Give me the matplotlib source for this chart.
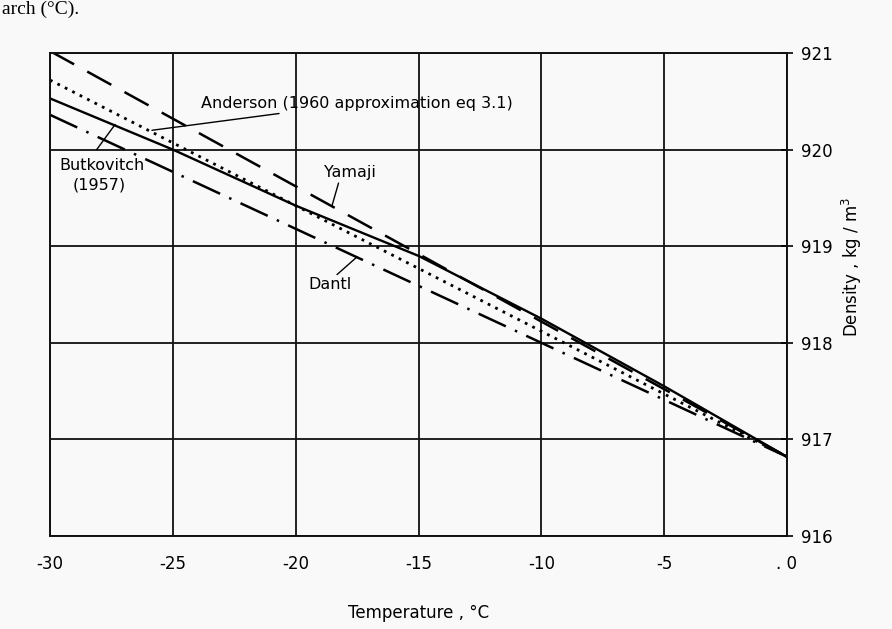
import matplotlib
matplotlib.use("Agg")
import matplotlib.pyplot as plt

# values
temperature = [-30, -25, -20, -15, -10, -5, 0]
yamaji = [921.02, 920.32, 919.62, 918.92, 918.22, 917.52, 916.82]
anderson = [920.72, 920.07, 919.42, 918.77, 918.12, 917.47, 916.82]
butkovitch = [920.53, 920.0, 919.42, 918.9, 918.25, 917.55, 916.82]
dantl = [920.36, 919.77, 919.18, 918.59, 918.0, 917.41, 916.82]

xticks = [-30, -25, -20, -15, -10, -5, 0]
xtick_labels = ["-30", "-25", "-20", "-15", "-10", "-5", ". 0"]
yticks = [916, 917, 918, 919, 920, 921]

plt.rcParams["font.family"] = ["DejaVu Sans"]

fig = plt.figure(figsize=(8.92, 6.29), dpi=100, facecolor="#f9f9f9")
ax = fig.add_axes([50 / 892, 1 - 536 / 629, 737 / 892, 483 / 629])
ax.set_facecolor("#f9f9f9")

ax.plot(temperature, yamaji, color="black", lw=1.8, ls=(0, (11, 6)))
ax.plot(temperature, anderson, color="black", lw=2.0, ls=(0, (1, 2)))
ax.plot(temperature, butkovitch, color="black", lw=1.7, ls="-")
ax.plot(temperature, dantl, color="black", lw=1.8, ls=(0, (12, 4, 1, 4)))

ax.set_xlim(-30, 0)
ax.set_ylim(916, 921)
ax.set_xticks(xticks)
ax.set_xticklabels(xtick_labels)
ax.set_yticks(yticks)
ax.yaxis.tick_right()
ax.tick_params(axis="x", length=0, pad=14, labelsize=12)
ax.tick_params(axis="y", direction="inout", length=8, width=1.2, pad=6, labelsize=12)
ax.grid(True, color="#111111", lw=1.3)
for s in ax.spines.values():
    s.set_linewidth(1.4)
    s.set_color("#111111")

ax.set_xlabel("Temperature , °C", fontsize=12, labelpad=22)
fig.text(852 / 892, 1 - 267 / 629, "Density , kg / m$^3$", rotation=90,
         ha="center", va="center", fontsize=12)

arrow = dict(arrowstyle="-", color="black", lw=1.0, shrinkA=0, shrinkB=0)
ax.annotate("Anderson (1960 approximation eq 3.1)", xy=(-25.85, 920.2),
            xytext=(-23.85, 920.48), ha="left", va="center", fontsize=11.5,
            arrowprops=arrow)
ax.annotate("", xy=(-27.35, 920.26), xytext=(-28.1, 920.0), arrowprops=arrow)
ax.text(-29.6, 919.84, "Butkovitch", ha="left", va="center", fontsize=11.5)
ax.text(-29.06, 919.63, "(1957)", ha="left", va="center", fontsize=11.5)
ax.annotate("Yamaji", xy=(-18.52, 919.42), xytext=(-17.8, 919.76),
            ha="center", va="center", fontsize=11.5,
            arrowprops=dict(arrow, relpos=(0.3, 0)))
ax.annotate("Dantl", xy=(-17.5, 918.89), xytext=(-19.5, 918.6),
            ha="left", va="center", fontsize=11.5,
            arrowprops=dict(arrow, relpos=(0.6, 1)))

fig.text(0.002, 0.999, "arch (°C).", family="Liberation Serif",
         fontsize=14, ha="left", va="top")

fig.savefig("out.png", dpi=100, facecolor=fig.get_facecolor())
